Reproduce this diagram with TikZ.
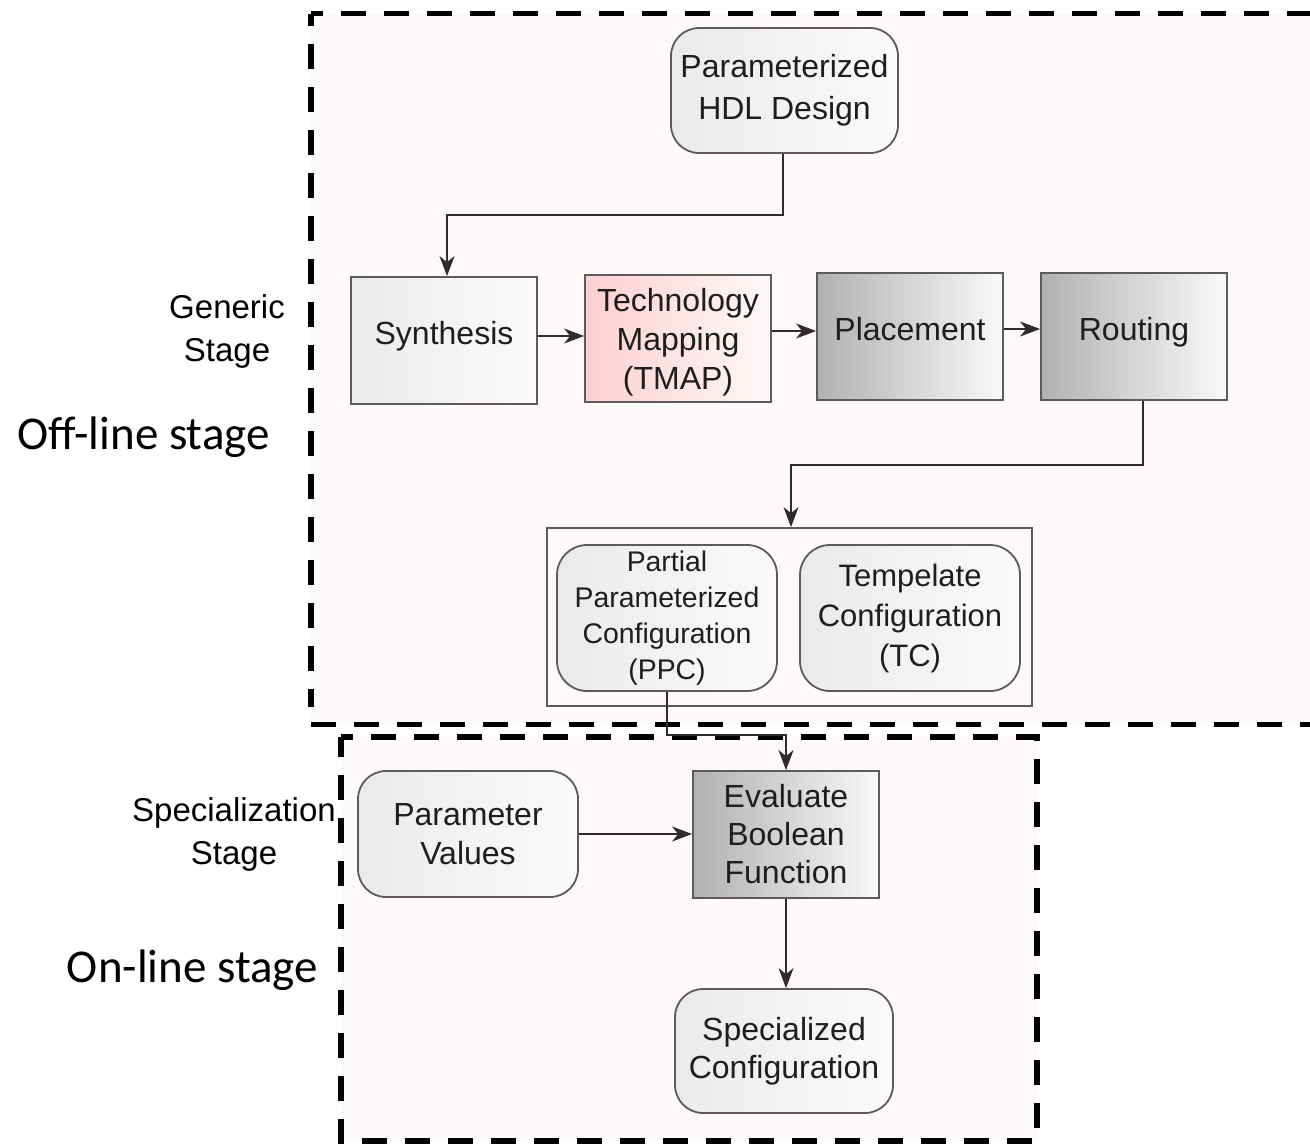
\documentclass[tikz,border=0pt]{standalone}
\usepackage{fontspec}
\setmainfont{Liberation Sans}
\newfontfamily\calibri{Carlito}
\usetikzlibrary{arrows.meta}

\definecolor{bgc}{HTML}{FDF9F8}
\definecolor{edge}{HTML}{5C5A5A}
\definecolor{txt}{HTML}{1E1E1E}
\definecolor{wire}{HTML}{2E2C2C}
\definecolor{lightL}{HTML}{EBEAEA}
\definecolor{lightR}{HTML}{FCFAF9}
\definecolor{darkL}{HTML}{B3B0B0}
\definecolor{darkR}{HTML}{FBF9F8}
\definecolor{pinkL}{HTML}{FDD0D0}
\definecolor{pinkR}{HTML}{FDF8F8}

\begin{document}
\begin{tikzpicture}[x=0.5pt,y=-0.5pt,
  frame/.style={line width=2.75pt, draw=black, dash pattern=on 12.5pt off 9pt},
  blk/.style={draw=edge, line width=0.9pt, align=center, inner sep=0pt, text=txt,
    minimum width=93pt, minimum height=63.5pt,
    font=\fontsize{16pt}{19.5pt}\selectfont},
  lightblk/.style={blk, left color=lightL, right color=lightR},
  darkblk/.style={blk, left color=darkL, right color=darkR},
  pinkblk/.style={blk, left color=pinkL, right color=pinkR},
  roundblk/.style={lightblk, rounded corners=14pt},
  single/.style={text depth=8pt},
  arr/.style={draw=wire, line width=0.8pt, -{Stealth[length=10pt, width=7.5pt, inset=3pt]}},
  lab/.style={align=center, text=black, inner sep=0pt, font=\fontsize{16.5pt}{21.5pt}\selectfont},
  big/.style={text=black, inner sep=0pt, font=\calibri\fontsize{23.5pt}{28pt}\selectfont}]

\useasboundingbox (0,0) rectangle (1310,1146);

% stage areas
\fill[bgc] (311,13.5) rectangle (1310,724.5);
\fill[bgc] (341,737) rectangle (1037,1141);
\draw[frame, dash phase=6.5pt] (311,13.5) -- (1312,13.5);
\draw[frame, dash phase=6.5pt] (311,13.5) -- (311,707);
\draw[frame] (311,724.5) -- (1312,724.5);
\draw[frame, dash phase=6.5pt] (341,737) -- (1037,737) -- (1037,1141) -- (341,1141) -- cycle;

% stage labels
\node[lab] (gen) at (227,331) {Generic\\Stage};
\node[big] (off) at (143.5,437) {Off-line stage};
\node[lab] (spl) at (234,834) {Specialization\\Stage};
\node[big] (on) at (192.5,970) {On-line stage};

% generic stage flow
\node[roundblk, minimum width=113.5pt, minimum height=62.5pt,
      font=\fontsize{16pt}{21pt}\selectfont] (hdl) at (784.5,90.5) {Parameterized\\HDL Design};
\node[lightblk, single] (synth) at (444,340.5) {Synthesis};
\node[pinkblk, text depth=0pt] (tmap) at (678,338.5) {Technology\\Mapping\\(TMAP)};
\node[darkblk, single] (place) at (910,336.5) {Placement};
\node[darkblk, single] (route) at (1134,336.5) {Routing};

% configuration outputs
\node[draw=edge, line width=0.9pt, fill=bgc, minimum width=242.5pt, minimum height=89pt,
      inner sep=0pt] (cont) at (789.5,617) {};
\node[roundblk, minimum width=110pt, minimum height=73pt, rounded corners=15pt,
      font=\fontsize{14.2pt}{18pt}\selectfont] (ppc) at (667,618)
      {Partial\\Parameterized\\Configuration\\(PPC)};
\node[roundblk, minimum width=110pt, minimum height=73pt, rounded corners=15pt,
      font=\fontsize{15.5pt}{20pt}\selectfont] (tc) at (910,618)
      {Tempelate\\Configuration\\(TC)};

% specialization stage
\node[roundblk, minimum width=110pt, minimum height=63pt] (pv) at (468,834) {Parameter\\Values};
\node[darkblk, font=\fontsize{16pt}{19pt}\selectfont] (ebf) at (786,834.5) {Evaluate\\Boolean\\Function};
\node[roundblk, minimum width=109pt, minimum height=62pt,
      font=\fontsize{16pt}{19pt}\selectfont] (spec) at (784,1051) {Specialized\\Configuration};

% connectors
\coordinate (b1) at (447,215);
\coordinate (b2) at (791,465);
\coordinate (b3) at (667,735);
\draw[arr] ([xshift=-0.75pt]hdl.south) |- (b1) -- (b1 |- synth.north);
\draw[arr] ([yshift=2.25pt]synth.east) -- ([yshift=2.25pt]synth.east -| tmap.west);
\draw[arr] ([yshift=3.75pt]tmap.east) -- ([yshift=3.75pt]tmap.east -| place.west);
\draw[arr] ([yshift=3.75pt]place.east) -- ([yshift=3.75pt]place.east -| route.west);
\draw[arr] ([xshift=4.5pt]route.south) |- (b2) -- (b2 |- cont.north);
\draw[arr] (ppc.south) -- (b3) -| (ebf.north);
\draw[arr] (pv.east) -- (pv.east -| ebf.west);
\draw[arr] (ebf.south) -- (ebf.south |- spec.north);

\end{tikzpicture}
\end{document}
